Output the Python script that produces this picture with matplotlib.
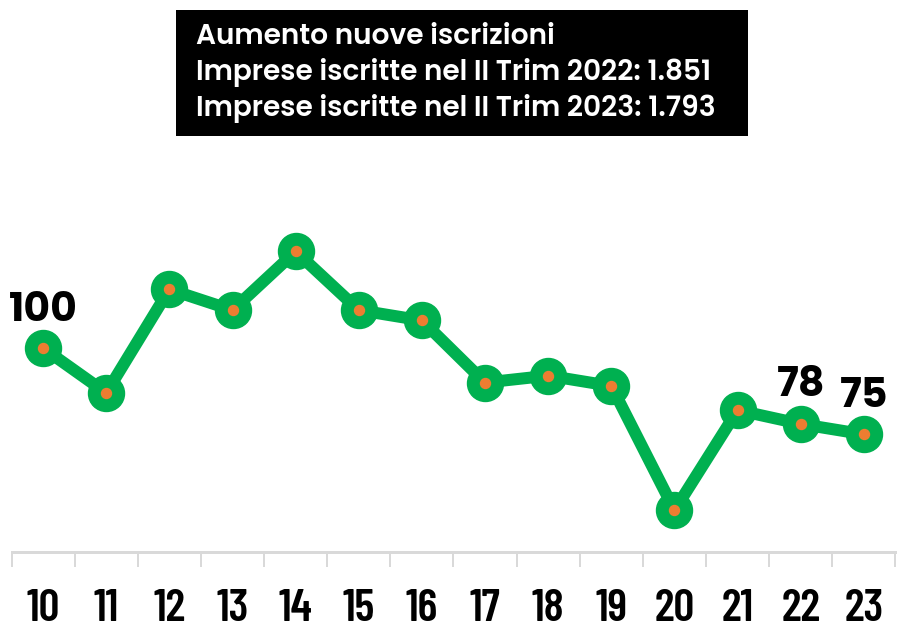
import matplotlib
matplotlib.use("Agg")
import matplotlib.pyplot as plt
from matplotlib import font_manager as fm
from matplotlib.patches import Rectangle

# ---- data ----
years = ["10", "11", "12", "13", "14", "15", "16", "17", "18", "19", "20", "21", "22", "23"]
index_values = [100, 87, 117, 111, 128, 111, 108, 90, 92, 89, 53, 82, 78, 75]
labelled_years = ["10", "22", "23"]
title_lines = [
    "Aumento nuove iscrizioni",
    "Imprese iscritte nel II Trim 2022: 1.851",
    "Imprese iscritte nel II Trim 2023: 1.793",
]

GREEN = "#00B050"
ORANGE = "#ED7D31"
AXIS_GREY = "#D9D9D9"


def wnum(w):
    if isinstance(w, (int, float)):
        return w
    return {"ultralight": 100, "light": 300, "normal": 400, "regular": 400, "book": 400,
            "medium": 500, "roman": 400, "semibold": 600, "demibold": 600, "demi": 600,
            "bold": 700, "heavy": 800, "extra bold": 800, "black": 900}.get(str(w).lower(), 400)


def pick_props(candidates, fallback_family="DejaVu Sans", fallback_weight="bold"):
    """candidates: list of (family, weight) -- returns FontProperties for first exact match."""
    for fam, wt in candidates:
        for f in fm.fontManager.ttflist:
            if f.name == fam and wnum(f.weight) == wt and f.style == "normal":
                return fm.FontProperties(fname=f.fname)
    return fm.FontProperties(family=fallback_family, weight=fallback_weight)


title_fp = pick_props([("URW Gothic", 600), ("Poppins", 600), ("Mulish", 700), ("Lato", 700)])
label_fp = pick_props([("URW Gothic", 600), ("Poppins", 700), ("Mulish", 700), ("Lato", 700)])
tick_fp = pick_props([("Barlow Condensed", 600), ("Asap Condensed", 600), ("Barlow Condensed", 700)])

W, H = 907, 628
DPI = 100
fig = plt.figure(figsize=(W / DPI, H / DPI), dpi=DPI)
fig.patch.set_facecolor("white")


def px2pt(p):
    return p * 72.0 / DPI


def fp(base, size_px):
    p = base.copy()
    p.set_size(px2pt(size_px))
    return p


# axes placement (pixel based)
ax_left, ax_right = 11.5, 895.5
ax_top, ax_bottom = 140, 552
ax = fig.add_axes([ax_left / W, (H - ax_bottom) / H, (ax_right - ax_left) / W, (ax_bottom - ax_top) / H])
ax.set_facecolor("none")

x = list(range(len(years)))
ax.plot(x, index_values, color=GREEN, lw=px2pt(12), marker="o", ms=px2pt(36),
        mfc=GREEN, mec=GREEN, solid_joinstyle="miter", zorder=2)
ax.plot(x, index_values, ls="none", marker="o", ms=px2pt(10), mfc=ORANGE, mec=ORANGE, zorder=3)

ax.set_xlim(-0.5, len(years) - 0.5)
ax.set_ylim(40.9, 160.3)

for yr, v, xi in zip(years, index_values, x):
    if yr in labelled_years:
        ax.annotate(str(v), (xi, v), xytext=(0, px2pt(27.5)), textcoords="offset points",
                    ha="center", va="baseline", fontproperties=fp(label_fp, 41),
                    color="black", zorder=4)

for s in ["top", "right", "left"]:
    ax.spines[s].set_visible(False)
ax.spines["bottom"].set_color(AXIS_GREY)
ax.spines["bottom"].set_linewidth(px2pt(3))
ax.set_yticks([])
ax.set_xticks(x)
ax.set_xticklabels(years, fontproperties=fp(tick_fp, 46))
ax.tick_params(axis="x", which="major", length=0, pad=px2pt(37))
ax.set_xticks([i - 0.5 for i in range(len(years) + 1)], minor=True)
ax.tick_params(axis="x", which="minor", length=px2pt(15), width=px2pt(2), color=AXIS_GREY)

# title box
fig.patches.append(Rectangle((176 / W, 1 - 136 / H), (748 - 176) / W, (136 - 10) / H,
                             transform=fig.transFigure, facecolor="black", edgecolor="none", zorder=0))
baselines = [44, 80, 116]
target_w = 516.0
probe_fp = fp(title_fp, 26.5)
t_probe = fig.text(0, 0, title_lines[1], fontproperties=probe_fp)
fig.canvas.draw()
bw = t_probe.get_window_extent().width
t_probe.remove()
title_size_px = 26.5 * target_w / bw
for line, b in zip(title_lines, baselines):
    fig.text(196 / W, 1 - b / H, line, color="white", fontproperties=fp(title_fp, title_size_px),
             ha="left", va="baseline", zorder=5)

fig.savefig("out.png", dpi=DPI, facecolor="white")
